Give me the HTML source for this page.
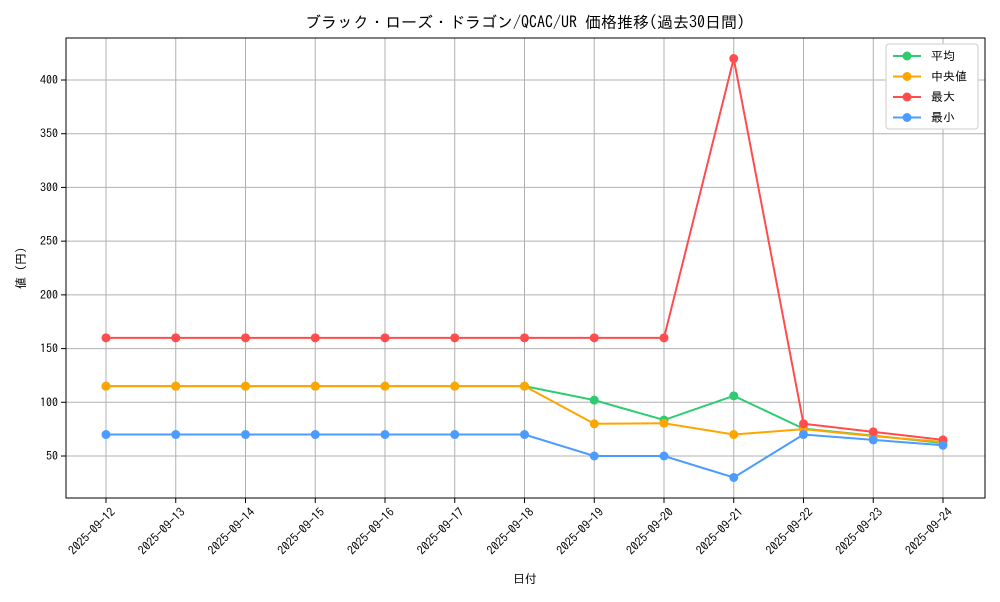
<!DOCTYPE html>
<html><head><meta charset="utf-8"><style>
body{margin:0;background:#fff;font-family:"IPAGothic","Noto Sans CJK JP",sans-serif;}
svg text{font-family:"IPAGothic","Noto Sans CJK JP",sans-serif;fill:#000;}
</style></head><body>
<svg id="chart" width="1000" height="600">
<text x="525" y="28" font-size="16" text-anchor="middle">ブラック・ローズ・ドラゴン/QCAC/UR 価格推移(過去30日間)</text>
<g id="grid"></g>
<g id="axes"></g>
<g id="series"></g>
<rect x="66" y="38" width="919" height="460" fill="none" stroke="#000" stroke-width="1"/>
<text x="525" y="583" font-size="12" text-anchor="middle">日付</text>
<text transform="translate(25,268) rotate(-90)" font-size="12" text-anchor="middle">値 (円)</text>
<g id="legend"></g>
</svg>
<script>
const dates=["2025-09-12","2025-09-13","2025-09-14","2025-09-15","2025-09-16","2025-09-17","2025-09-18","2025-09-19","2025-09-20","2025-09-21","2025-09-22","2025-09-23","2025-09-24"];
const avgValues=[115,115,115,115,115,115,115,102,83.5,106,75.5,69,62];
const medianValues=[115,115,115,115,115,115,115,80,80.5,70,75,68.5,63];
const maxValues=[160,160,160,160,160,160,160,160,160,420,80,72.5,65];
const minValues=[70,70,70,70,70,70,70,50,50,30,70,65,60];
const yTicks=[50,100,150,200,250,300,350,400];
const seriesNames=["平均","中央値","最大","最小"];
const colors=["#2ecc71","#ffa500","#ff4c4c","#4c9cff"];
const NS="http://www.w3.org/2000/svg";
const X0=106,XSTEP=69.75;
function xs(i){return X0+i*XSTEP;}
function ys(v){return 456-(v-50)*1.0743;}
function mk(tag,attrs,parent){const e=document.createElementNS(NS,tag);for(const k in attrs)e.setAttribute(k,attrs[k]);parent.appendChild(e);return e;}
const grid=document.getElementById('grid'),axes=document.getElementById('axes'),ser=document.getElementById('series'),leg=document.getElementById('legend');
dates.forEach((d,i)=>{
 const x=xs(i);
 const g=mk('line',{x1:x,x2:x,y1:38,y2:498,stroke:'#b0b0b0','stroke-width':1},grid);
 
 
 mk('line',{x1:x,x2:x,y1:498,y2:503,stroke:'#000'},axes);
 const t=mk('text',{x:x+4,y:507,'font-size':12,'text-anchor':'end',transform:`rotate(-45 ${x+4} 507)`,dy:'0.7em'},axes);
 t.textContent=d;
 
 
});
yTicks.forEach(v=>{
 const y=ys(v);
 const g=mk('line',{x1:66,x2:985,y1:y,y2:y,stroke:'#b0b0b0','stroke-width':1},grid);
 
 
 mk('line',{x1:61,x2:66,y1:y,y2:y,stroke:'#000'},axes);
 const t=mk('text',{x:58,y:y+4,'font-size':12,'text-anchor':'end'},axes);
 t.textContent=v;
 
 
});
[avgValues,medianValues,maxValues,minValues].forEach((vals,si)=>{
 const g=mk('g',{},ser);
 
 
 mk('polyline',{points:vals.map((v,i)=>xs(i)+','+ys(v)).join(' '),fill:'none',stroke:colors[si],'stroke-width':2},g);
 vals.forEach((v,i)=>{
  const c=mk('circle',{cx:xs(i),cy:ys(v),r:4.5,fill:colors[si]},g);
  
  
 });
});
mk('rect',{x:886,y:44,width:92,height:85,fill:'#fff',stroke:'#ccc',rx:3},leg);
seriesNames.forEach((n,i)=>{
 const y=56+i*20.5;
 mk('line',{x1:893,x2:921,y1:y,y2:y,stroke:colors[i],'stroke-width':2},leg);
 mk('circle',{cx:907,cy:y,r:4.5,fill:colors[i]},leg);
 const t=mk('text',{x:931,y:y+4,'font-size':12},leg);
 t.textContent=(i===1?' ':'')+n;
 
 
});
</script>
</body></html>
